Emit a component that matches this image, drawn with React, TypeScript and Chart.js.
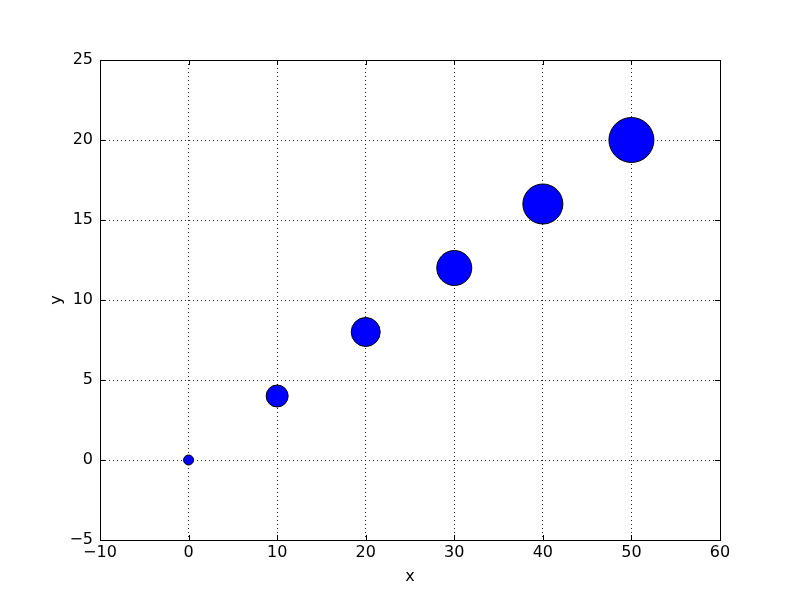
import React, { useEffect, useRef } from 'react';
import { Chart, registerables, Plugin } from 'chart.js';

Chart.register(...registerables);

const xValues = [0, 10, 20, 30, 40, 50];
const yValues = [0, 4, 8, 12, 16, 20];
const radii = [5, 11, 14.5, 17.5, 20, 22.5];

const xTicks = [-10, 0, 10, 20, 30, 40, 50, 60];
const yTicks = [-5, 0, 5, 10, 15, 20, 25];

const fontFamily = '"DejaVu Sans", sans-serif';

const minusSign = (v: number | string) => String(v).replace('-', '\u2212');

// frame on all four sides plus inward ticks, classic matplotlib style
const framePlugin: Plugin = {
    id: 'frame',
    afterDraw(chart) {
        const { ctx, chartArea } = chart;
        const { left, right, top, bottom } = chartArea;
        const xs = chart.scales.x;
        const ys = chart.scales.y;
        const tl = 5;
        ctx.save();
        ctx.strokeStyle = '#000';
        ctx.lineWidth = 1;
        ctx.beginPath();
        xTicks.forEach((t) => {
            const px = Math.round(xs.getPixelForValue(t)) + 0.5;
            ctx.moveTo(px, bottom);
            ctx.lineTo(px, bottom - tl);
            ctx.moveTo(px, top);
            ctx.lineTo(px, top + tl);
        });
        yTicks.forEach((t) => {
            const py = Math.round(ys.getPixelForValue(t)) + 0.5;
            ctx.moveTo(left, py);
            ctx.lineTo(left + tl, py);
            ctx.moveTo(right, py);
            ctx.lineTo(right - tl, py);
        });
        ctx.stroke();
        ctx.strokeRect(Math.round(left) + 0.5, Math.round(top) + 0.5, Math.round(right - left), Math.round(bottom - top));
        ctx.restore();
    },
};

const App: React.FC = () => {
    const canvasRef = useRef<HTMLCanvasElement | null>(null);
    const chartRef = useRef<Chart | null>(null);

    useEffect(() => {
        document.body.style.margin = '0';
        if (!canvasRef.current) return;
        const ctx = canvasRef.current.getContext('2d');
        if (!ctx) return;
        if (chartRef.current) chartRef.current.destroy();

        chartRef.current = new Chart(ctx, {
            type: 'bubble',
            data: {
                datasets: [{
                    data: xValues.map((x, i) => ({ x, y: yValues[i], r: radii[i] })),
                    backgroundColor: '#0000ff',
                    borderColor: '#000000',
                    borderWidth: 1,
                    hoverRadius: 0,
                }],
            },
            options: {
                responsive: false,
                animation: false,
                events: [],
                layout: { padding: { top: 60, right: 80, left: 0, bottom: 0 } },
                plugins: {
                    legend: { display: false },
                    tooltip: { enabled: false },
                },
                scales: {
                    x: {
                        type: 'linear',
                        min: -10,
                        max: 60,
                        z: 1,
                        afterFit: (scale) => { scale.height = 60; },
                        afterBuildTicks: (scale) => { scale.ticks = xTicks.map((v) => ({ value: v })); },
                        grid: {
                            color: 'rgba(0,0,0,0.85)',
                            lineWidth: 1,
                            drawTicks: false,
                        },
                        border: { display: true, color: '#000', width: 1, dash: [1, 3] },
                        ticks: {
                            padding: 3,
                            maxRotation: 0,
                            autoSkip: false,
                            color: '#000',
                            font: { family: fontFamily, size: 16 },
                            callback: (v) => minusSign(v),
                        },
                        title: {
                            display: true,
                            text: 'x',
                            color: '#000',
                            font: { family: fontFamily, size: 16 },
                            padding: { top: 0, bottom: 14 },
                        },
                    },
                    y: {
                        type: 'linear',
                        min: -5,
                        max: 25,
                        z: 1,
                        afterFit: (scale) => { scale.width = 100; },
                        afterBuildTicks: (scale) => { scale.ticks = yTicks.map((v) => ({ value: v })); },
                        grid: {
                            color: 'rgba(0,0,0,0.85)',
                            lineWidth: 1,
                            drawTicks: false,
                        },
                        border: { display: true, color: '#000', width: 1, dash: [1, 3] },
                        ticks: {
                            padding: 7,
                            autoSkip: false,
                            color: '#000',
                            font: { family: fontFamily, size: 16 },
                            callback: (v) => minusSign(v),
                        },
                        title: {
                            display: true,
                            text: 'y',
                            color: '#000',
                            font: { family: fontFamily, size: 16 },
                            padding: { top: 47, bottom: 0 },
                        },
                    },
                },
            },
            plugins: [framePlugin],
        });

        return () => {
            if (chartRef.current) {
                chartRef.current.destroy();
                chartRef.current = null;
            }
        };
    }, []);

    return (
        <div style={{ width: 800, height: 600, background: '#fff' }}>
            <canvas ref={canvasRef} width={800} height={600} style={{ display: 'block' }}></canvas>
        </div>
    );
};

export default App;
